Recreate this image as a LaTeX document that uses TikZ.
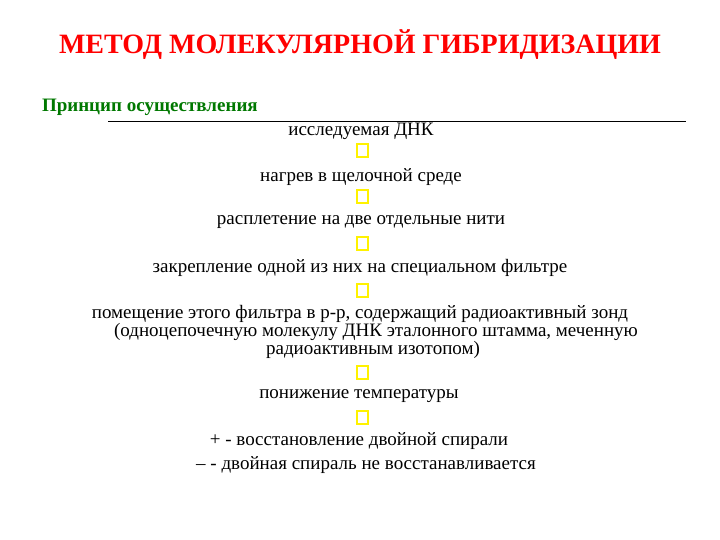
\documentclass[tikz,border=0pt]{standalone}
\usepackage{fontspec}
\setmainfont{Liberation Serif}
\newfontfamily\tnr{Liberation Serif}
\begin{document}
\begin{tikzpicture}[x=1pt,y=-1pt,
  every node/.style={inner sep=0pt,outer sep=0pt},
  body/.style={font=\tnr\fontsize{19}{21}\selectfont,anchor=center},
  mark box/.style={draw=yellow,line width=2pt,minimum width=11pt,minimum height=13pt},
  titletext/.style={font=\tnr\bfseries\fontsize{28}{31}\selectfont,text=red},
  headtext/.style={font=\tnr\bfseries\fontsize{19}{21}\selectfont,text={rgb,255:red,0;green,120;blue,0}}]
\useasboundingbox (0,0) rectangle (720,540);
\node[titletext] (title) at (360,45) {МЕТОД МОЛЕКУЛЯРНОЙ ГИБРИДИЗАЦИИ};
\node[headtext,anchor=west] (head) at (42,107) {Принцип осуществления};
\coordinate (l1) at (108,121);
\coordinate (l2) at (686,121);
\draw[line width=0.8pt] (l1) -- (l2);
\node[body] (t1) at (361,131) {исследуемая ДНК};
\node[mark box] (b1) at (362,151) {};
\node[body] (t2) at (361,177) {нагрев в щелочной среде};
\node[mark box] (b2) at (362,197) {};
\node[body] (t3) at (361,222) {расплетение на две отдельные нити};
\node[mark box] (b3) at (362,243) {};
\node[body] (t4) at (360,268) {закрепление одной из них на специальном фильтре};
\node[mark box] (b4) at (362,290) {};
\node[body] (t5) at (360,314) {помещение этого фильтра в р-р, содержащий радиоактивный зонд};
\node[body] (t6) at (376,332) {(одноцепочечную молекулу ДНК эталонного штамма, меченную};
\node[body] (t7) at (373,350) {радиоактивным изотопом)};
\node[mark box] (b5) at (362,372) {};
\node[body] (t8) at (359,396) {понижение температуры};
\node[mark box] (b6) at (362,417) {};
\node[body] (t9) at (359,441) {+ - восстановление двойной спирали};
\node[body] (t10) at (366,465) {– - двойная спираль не восстанавливается};
\end{tikzpicture}
\end{document}
